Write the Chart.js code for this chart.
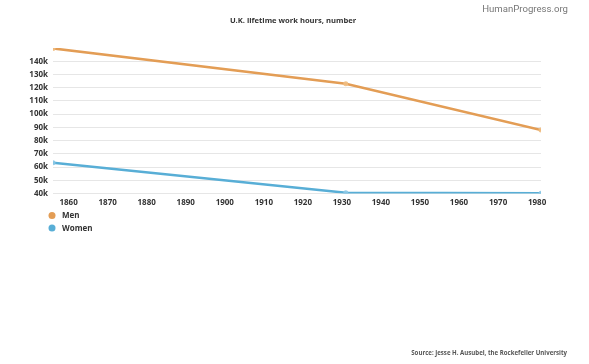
<!DOCTYPE html>
<html>
<head>
<meta charset="utf-8">
<script src="https://cdn.jsdelivr.net/npm/chart.js@4/dist/chart.umd.min.js"></script>
<style>
html,body{margin:0;padding:0;background:#fff;}
#wrap{position:relative;width:589px;height:364px;}
canvas{display:block;}
</style>
</head>
<body>
<div id="wrap"><canvas id="c" width="589" height="364"></canvas></div>
<script>
const years = [1856, 1931, 1981];
const menHours = [149700, 123000, 88000];
const womenHours = [63300, 40600, 40200];
const seriesNames = ['Men', 'Women'];
const xTicks = [1860, 1870, 1880, 1890, 1900, 1910, 1920, 1930, 1940, 1950, 1960, 1970, 1980];
const yTicks = [40000, 50000, 60000, 70000, 80000, 90000, 100000, 110000, 120000, 130000, 140000];
const titleText = 'U.K. lifetime work hours, number';
const brandText = 'HumanProgress.org';
const sourceText = 'Source: Jesse H. Ausubel, the Rockefeller University';

const ORANGE = '#E39D55';
const BLUE = '#58AED6';

const extras = {
  id: 'extras',
  afterDraw(chart) {
    const ctx = chart.ctx;
    ctx.save();
    // title
    ctx.fillStyle = '#333';
    ctx.font = 'bold 7.6px "Open Sans"';
    ctx.textAlign = 'center';
    ctx.textBaseline = 'middle';
    ctx.fillText(titleText, 293, 20.5);
    // brand
    ctx.fillStyle = '#777';
    ctx.font = '9.6px Roboto';
    ctx.textAlign = 'right';
    ctx.fillText(brandText, 568, 10);
    // source
    ctx.fillStyle = '#555';
    ctx.font = 'bold 6.1px "Open Sans"';
    ctx.textAlign = 'right';
    ctx.fillText(sourceText, 567, 353);
    // legend
    const colors = [ORANGE, BLUE];
    chart.data.datasets.forEach((ds, i) => {
      const y = 215.5 + i * 12.5;
      ctx.fillStyle = colors[i];
      ctx.beginPath();
      ctx.arc(52, y, 3.5, 0, Math.PI * 2);
      ctx.fill();
      ctx.fillStyle = '#333';
      ctx.font = 'bold 8px "Open Sans"';
      ctx.textAlign = 'left';
      ctx.fillText(ds.label, 62, y + 0.5);
    });
    ctx.restore();
  }
};

new Chart(document.getElementById('c'), {
  type: 'line',
  data: {
    datasets: [
      {
        label: seriesNames[0],
        data: years.map((y, i) => ({x: y, y: menHours[i]})),
        borderColor: ORANGE,
        backgroundColor: ORANGE,
        borderWidth: 2.5,
        pointRadius: 2.5,
        pointBackgroundColor: 'rgba(240,190,130,0.9)',
        pointBorderWidth: 0,
        tension: 0
      },
      {
        label: seriesNames[1],
        data: years.map((y, i) => ({x: y, y: womenHours[i]})),
        borderColor: BLUE,
        backgroundColor: BLUE,
        borderWidth: 2.5,
        pointRadius: 2.5,
        pointBackgroundColor: 'rgba(140,200,230,0.9)',
        pointBorderWidth: 0,
        tension: 0
      }
    ]
  },
  options: {
    responsive: false,
    animation: false,
    layout: {padding: {left: 0, right: 48, top: 48, bottom: 150}},
    plugins: {legend: {display: false}, title: {display: false}, tooltip: {enabled: false}},
    scales: {
      x: {
        type: 'linear',
        min: 1856,
        max: 1981,
        afterBuildTicks: s => { s.ticks = xTicks.map(v => ({value: v})); },
        afterFit: s => { s.height = 20.5; },
        grid: {display: false, drawTicks: false},
        border: {display: false},
        ticks: {
          padding: 4,
          color: '#333',
          font: {family: 'Open Sans', size: 8, weight: 'bold'},
          maxRotation: 0,
          autoSkip: false,
          callback: v => String(v)
        }
      },
      y: {
        type: 'linear',
        min: 40000,
        max: 150000,
        afterBuildTicks: s => { s.ticks = yTicks.map(v => ({value: v})); },
        afterFit: s => { s.width = 53; },
        grid: {color: '#e6e6e6', lineWidth: 1, drawTicks: false},
        border: {display: false},
        ticks: {
          padding: 5,
          color: '#333',
          font: {family: 'Open Sans', size: 8, weight: 'bold'},
          callback: v => (v / 1000) + 'k'
        }
      }
    }
  },
  plugins: [extras]
});
</script>
</body>
</html>
